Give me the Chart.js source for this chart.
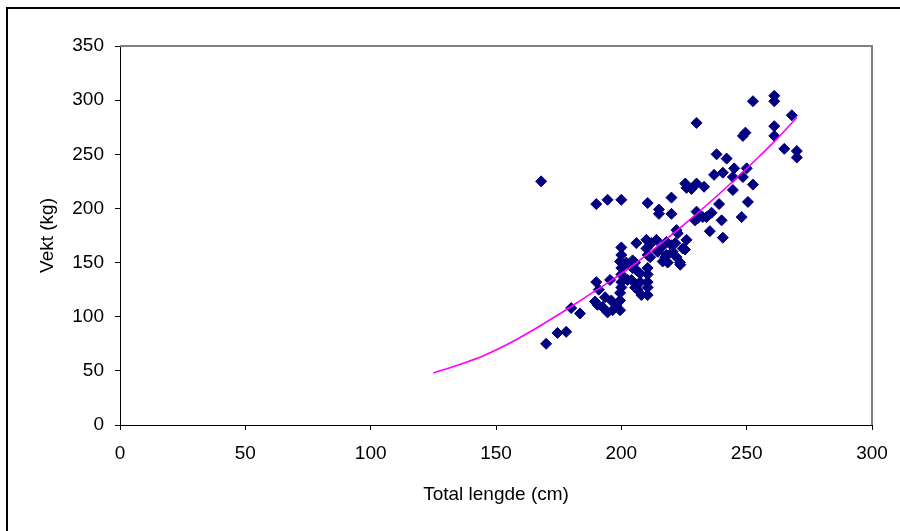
<!DOCTYPE html>
<html>
<head>
<meta charset="utf-8">
<script src="https://cdn.jsdelivr.net/npm/chart.js@4"></script>
<style>
  body { margin: 0; background: #fff; }
  #wrap { width: 900px; height: 531px; position: relative; }
</style>
</head>
<body>
<div id="wrap"><canvas id="chart" width="900" height="531"></canvas></div>
<script>
const lengthCm = [
  168, 170, 174.5, 178, 180, 183.5, 190, 194.5, 200, 210.5,
  215, 215, 220, 220, 222, 230, 252.5, 261, 261, 268,
  261, 261, 248.5, 249.5, 265, 270, 270, 238, 242, 245,
  250, 244.5, 248.5, 252.5, 237, 240.5, 233, 244.5, 239, 250.5,
  248, 240, 236, 232.5, 226, 230, 225.5, 228, 230, 230.5,
  234, 226, 221.5, 235.3, 240.5, 225.4, 223.4, 229.4, 190, 189.5,
  190.5, 194.5, 195.5, 198, 199.5, 199.5, 199.5, 200, 200, 199.5,
  200, 200, 200, 200, 205.5, 206, 206, 204, 205.5, 210,
  210, 210.5, 210.5, 210.5, 210.5, 210.5, 210.5, 214, 214.5, 216.5,
  218, 220, 218, 220.5, 223.5, 224.5, 222.5, 212, 216, 211.5,
  217.5, 218.5, 222, 196, 192.5, 193.5, 196.5, 202, 204.5, 204.5,
  202.5, 207.5, 207.5, 206.5, 208, 191
];
const weightKg = [
  225, 75, 85, 86, 108, 103, 204, 208, 208, 205,
  199, 195, 210, 195, 180, 279, 299, 304, 299, 286,
  276, 267, 267, 270, 255, 253, 247, 250, 246, 237,
  237, 229, 229, 222, 231, 233, 220, 217, 204, 206,
  192, 189, 196, 192, 219, 223, 223, 218, 197, 191,
  192, 171, 168, 179, 173, 162, 150, 189, 132, 114,
  111, 104, 134, 111, 106, 115, 122, 164, 157, 151,
  145, 139, 132, 127, 150, 168, 143, 134, 127, 171,
  163, 157, 145, 139, 132, 127, 120, 171, 160, 151,
  169, 166, 157, 160, 148, 163, 177, 168, 164, 155,
  155, 150, 155, 115, 109, 118, 106, 150, 152, 145,
  134, 140, 132, 125, 120, 125
];

// trend curve, points
const trendX = [125, 135, 145, 155, 165, 175, 185, 195, 205, 215, 225, 235, 245, 255, 262, 270];
const trendY = [48, 55.5, 64, 75, 88, 102, 117, 132, 148, 166, 185, 205, 226, 248, 264, 284];

const xTicks = [0, 50, 100, 150, 200, 250, 300];
const yTicks = [0, 50, 100, 150, 200, 250, 300, 350];

const scatterPts = lengthCm.map((x, i) => ({ x: x, y: weightKg[i] }));
const trendPts = trendX.map((x, i) => ({ x: x, y: trendY[i] }));

const FONT = { family: "'Liberation Sans', Arial, sans-serif", size: 19 };

// frame around the whole chart + grey plot-area border (top/right)
const framePlugin = {
  id: 'frames',
  beforeDraw(chart) {
    const ctx = chart.ctx;
    ctx.save();
    ctx.fillStyle = '#fff';
    ctx.fillRect(0, 0, chart.width, chart.height);
    ctx.strokeStyle = '#000';
    ctx.lineWidth = 2;
    ctx.beginPath();
    ctx.moveTo(7, chart.height + 5);
    ctx.lineTo(7, 8);
    ctx.lineTo(chart.width + 5, 8);
    ctx.stroke();
    ctx.restore();
  },
  beforeDatasetsDraw(chart) {
    const a = chart.chartArea;
    const ctx = chart.ctx;
    ctx.save();
    ctx.strokeStyle = '#808080';
    ctx.lineWidth = 2;
    ctx.beginPath();
    ctx.moveTo(a.left, a.top);
    ctx.lineTo(a.right, a.top);
    ctx.lineTo(a.right, a.bottom);
    ctx.stroke();
    ctx.restore();
  }
};

new Chart(document.getElementById('chart'), {
  type: 'scatter',
  data: {
    datasets: [{
      type: 'line',
      label: 'Trend',
      data: trendPts,
      borderColor: '#FF00FF',
      borderWidth: 1.6,
      pointRadius: 0,
      fill: false,
      cubicInterpolationMode: 'monotone',
      order: 0
    }, {
      label: 'Vekt',
      data: scatterPts,
      pointStyle: 'rectRot',
      pointRadius: 5.5,
      pointHoverRadius: 5.5,
      backgroundColor: '#000080',
      borderColor: '#000080',
      borderWidth: 1,
      order: 1
    }]
  },
  options: {
    responsive: false,
    animation: false,
    layout: { padding: { left: 0, top: 46, right: 28, bottom: 0 } },
    plugins: {
      legend: { display: false },
      tooltip: { enabled: false }
    },
    scales: {
      x: {
        type: 'linear',
        min: 0,
        max: 300,
        afterBuildTicks: s => { s.ticks = xTicks.map(v => ({ value: v })); },
        afterFit: s => { s.height = 106; },
        grid: { drawOnChartArea: false, drawTicks: true, tickLength: 5, color: '#000' },
        border: { display: true, color: '#000', width: 1 },
        ticks: { color: '#000', font: FONT, padding: 12, maxRotation: 0 },
        title: { display: true, text: 'Total lengde (cm)', color: '#000', font: FONT, padding: { top: 0, bottom: 25 } }
      },
      y: {
        type: 'linear',
        min: 0,
        max: 350,
        afterBuildTicks: s => { s.ticks = yTicks.map(v => ({ value: v })); },
        afterFit: s => { s.width = 120; },
        grid: { drawOnChartArea: false, drawTicks: true, tickLength: 5, color: '#000' },
        border: { display: true, color: '#000', width: 1 },
        ticks: { color: '#000', font: FONT, padding: 11 },
        title: { display: true, text: 'Vekt (kg)', color: '#000', font: FONT, padding: { top: 36, bottom: 0 } }
      }
    }
  },
  plugins: [framePlugin]
});
</script>
</body>
</html>
